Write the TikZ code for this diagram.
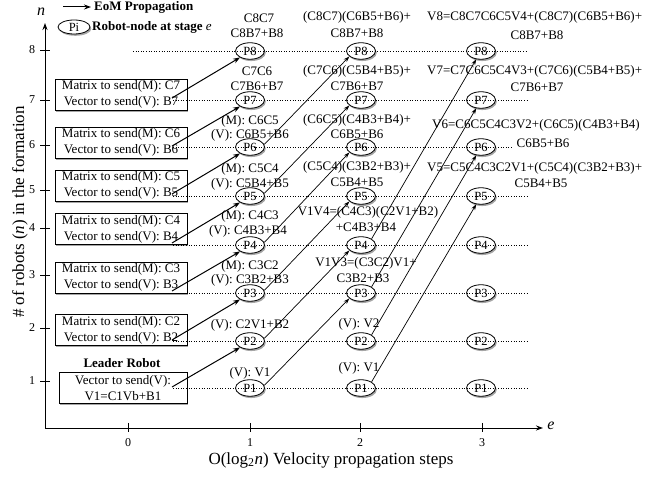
\documentclass[tikz,border=0pt]{standalone}
\usepackage{fontspec}
\setmainfont{Liberation Serif}
\usetikzlibrary{arrows.meta,shapes.geometric,shadows}
\begin{document}
\begin{tikzpicture}[x=1pt,y=-1pt,
  shad/.style={drop shadow={shadow xshift=1.3pt,shadow yshift=-1.8pt,opacity=0.7}},
  pnode/.style={ellipse,draw,line width=0.8pt,fill=white,minimum width=29pt,minimum height=16.5pt,inner sep=0pt,font=\fontsize{12.5}{12.5}\selectfont,shad},
  sendbox/.style={draw,line width=0.8pt,fill=white,minimum width=132pt,minimum height=31pt,inner sep=1pt,align=center,font=\fontsize{13}{16}\selectfont,shad},
  lbl/.style={inner sep=0pt,font=\fontsize{13}{15}\selectfont},
  rowline/.style={dotted,line width=0.6pt},
  eom/.style={-{Stealth[length=7pt,width=5pt]},line width=1pt},
  eomthin/.style={-{Stealth[length=6pt,width=4pt]},line width=0.7pt},
  axisline/.style={-{Stealth[length=7pt,width=5pt]},line width=0.9pt},
  tick/.style={line width=0.9pt},
  ticklbl/.style={inner sep=0pt,font=\fontsize{12}{12}\selectfont}]
\useasboundingbox (0,0) rectangle (646,478);

% axes
\coordinate (O) at (45,428);
\coordinate (Ytop) at (45,23);
\coordinate (Xend) at (543,428);
\draw[axisline] (O) -- (Ytop);
\draw[axisline] (O) -- (Xend);
\node[inner sep=0pt,font=\fontsize{16}{16}\selectfont\itshape] (nlab) at (41,12) {n};
\node[inner sep=0pt,font=\fontsize{16}{16}\selectfont\itshape] (elab) at (551,426) {e};

% y ticks
\foreach \v/\yy in {1/381,2/328,3/275,4/228,5/190,6/145,7/100,8/50}{
  \draw[tick] (40,\yy) -- (50,\yy);
  \node[ticklbl] (yt\v) at (32,\yy) {\v};
}
% x ticks
\foreach \v/\xx in {0/128,1/250,2/360,3/482}{
  \draw[tick] (\xx,423) -- (\xx,432);
  \node[ticklbl] (xt\v) at (\xx,443) {\v};
}
\node[inner sep=0pt,rotate=90,font=\fontsize{17}{17}\selectfont] (ylab) at (20,212) {\# of robots (\textit{n}) in the formation};
\node[inner sep=0pt,font=\fontsize{17}{17}\selectfont] (xlab) at (331,460) {O(log\textsubscript{2}\textit{n}) Velocity propagation steps};

% legend
\coordinate (lgA) at (63,7);
\coordinate (lgB) at (91,7);
\draw[eom] (lgA) -- (lgB);
\node[anchor=west,inner sep=0pt,font=\fontsize{13}{13}\selectfont\bfseries] (lg1) at (94,7) {EoM Propagation};
\node[pnode,minimum width=32pt,minimum height=14pt] (lgP) at (74,27) {Pi};
\node[anchor=west,inner sep=0pt,font=\fontsize{13}{13}\selectfont] (lg2) at (92,27) {\textbf{Robot-node at stage} \textit{e}};

% boxes
\node[sendbox] (m7) at (121,94.5) {Matrix to send(M): C7\\Vector to send(V): B7};
\node[sendbox] (m6) at (121,142.5) {Matrix to send(M): C6\\Vector to send(V): B6};
\node[sendbox] (m5) at (121,185.5) {Matrix to send(M): C5\\Vector to send(V): B5};
\node[sendbox] (m4) at (121,229) {Matrix to send(M): C4\\Vector to send(V): B4};
\node[sendbox] (m3) at (121,277.5) {Matrix to send(M): C3\\Vector to send(V): B3};
\node[sendbox] (m2) at (121,330) {Matrix to send(M): C2\\Vector to send(V): B2};
\node[inner sep=0pt,font=\fontsize{13}{13}\selectfont\bfseries] (ldr) at (122,363) {Leader Robot};
\node[sendbox,minimum width=128pt] (m1) at (123,388) {Vector to send(V):\\V1=C1Vb+B1};

% robot nodes
\foreach \k/\yy in {1/388,2/341,3/293,4/245,5/196,6/147,7/100,8/51}{
  \node[pnode] (a\k) at (250,\yy) {P\k};
  \node[pnode] (b\k) at (361,\yy) {P\k};
  \node[pnode] (c\k) at (481,\yy) {P\k};
}

% dotted row lines
\draw[rowline] (133,51) -- (528,51);
\foreach \yy in {388,341,293,245,196,100}{
  \draw[rowline] (173,\yy) -- (528,\yy);
}
\draw[rowline] (173,147) -- (513,147);

% arrow start points on boxes
\foreach \k/\yy in {1/387,2/340,3/291,4/243,5/194,6/146,7/98}{
  \coordinate (s\k) at (172,\yy);
}

% stage 1 arrows
\draw[eom] (s7) -- (a8.213);
\draw[eom] (s6) -- (a7.213);
\draw[eom] (s5) -- (a6.213);
\draw[eom] (s4) -- (a5.213);
\draw[eom] (s3) -- (a4.213);
\draw[eom] (s2) -- (a3.213);
\draw[eom] (s1) -- (a2.213);

% stage 2 arrows
\draw[eomthin] (a6.10) -- (b8.205);
\draw[eomthin] (a5.10) -- (b7.205);
\draw[eomthin] (a4.10) -- (b6.205);
\draw[eomthin] (a3.10) -- (b5.205);
\draw[eomthin] (a2.10) -- (b4.205);
\draw[eomthin] (a1.10) -- (b3.205);

% stage 3 arrows
\draw[eomthin] (b4.30) -- (c8.240);
\draw[eomthin] (b3.30) -- (c7.240);
\draw[eomthin] (b2.30) -- (c6.240);
\draw[eomthin] (b1.30) -- (c5.240);

% column 1 labels
\node[lbl] (la8a) at (259,18) {C8C7};
\node[lbl] (la8b) at (257,33) {C8B7+B8};
\node[lbl] (la7a) at (257,71) {C7C6};
\node[lbl] (la7b) at (257,86) {C7B6+B7};
\node[lbl] (la6a) at (250,121) {(M): C6C5};
\node[lbl] (la6b) at (250,135) {(V): C6B5+B6};
\node[lbl] (la5a) at (250,169) {(M): C5C4};
\node[lbl] (la5b) at (250,184) {(V): C5B4+B5};
\node[lbl] (la4a) at (250,216) {(M): C4C3};
\node[lbl] (la4b) at (248,231) {(V): C4B3+B4};
\node[lbl] (la3a) at (250,266) {(M): C3C2};
\node[lbl] (la3b) at (250,280) {(V): C3B2+B3};
\node[lbl] (la2) at (250,325) {(V): C2V1+B2};
\node[lbl] (la1) at (250,373) {(V): V1};

% column 2 labels
\node[lbl] (lb8a) at (357,17) {(C8C7)(C6B5+B6)+};
\node[lbl] (lb8b) at (357,33) {C8B7+B8};
\node[lbl] (lb7a) at (357,71) {(C7C6)(C5B4+B5)+};
\node[lbl] (lb7b) at (357,86) {C7B6+B7};
\node[lbl] (lb6a) at (357,120) {(C6C5)(C4B3+B4)+};
\node[lbl] (lb6b) at (357,134) {C6B5+B6};
\node[lbl] (lb5a) at (357,167) {(C5C4)(C3B2+B3)+};
\node[lbl] (lb5b) at (357,182) {C5B4+B5};
\node[lbl] (lb4a) at (368,212) {V1V4=(C4C3)(C2V1+B2)};
\node[lbl] (lb4b) at (366,227) {+C4B3+B4};
\node[lbl] (lb3a) at (366,263) {V1V3=(C3C2)V1+};
\node[lbl] (lb3b) at (363,278) {C3B2+B3};
\node[lbl] (lb2) at (359,324) {(V): V2};
\node[lbl] (lb1) at (359,368) {(V): V1};

% column 3 labels
\node[lbl,anchor=west] (lc8a) at (427,17) {V8=C8C7C6C5V4+(C8C7)(C6B5+B6)+};
\node[lbl] (lc8b) at (537,35) {C8B7+B8};
\node[lbl,anchor=west] (lc7a) at (427,71) {V7=C7C6C5C4V3+(C7C6)(C5B4+B5)+};
\node[lbl] (lc7b) at (537,87) {C7B6+B7};
\node[lbl,anchor=west] (lc6a) at (432,125) {V6=C6C5C4C3V2+(C6C5)(C4B3+B4)};
\node[lbl] (lc6b) at (543,143) {C6B5+B6};
\node[lbl,anchor=west] (lc5a) at (427,168) {V5=C5C4C3C2V1+(C5C4)(C3B2+B3)+};
\node[lbl] (lc5b) at (541,183) {C5B4+B5};
\end{tikzpicture}
\end{document}
